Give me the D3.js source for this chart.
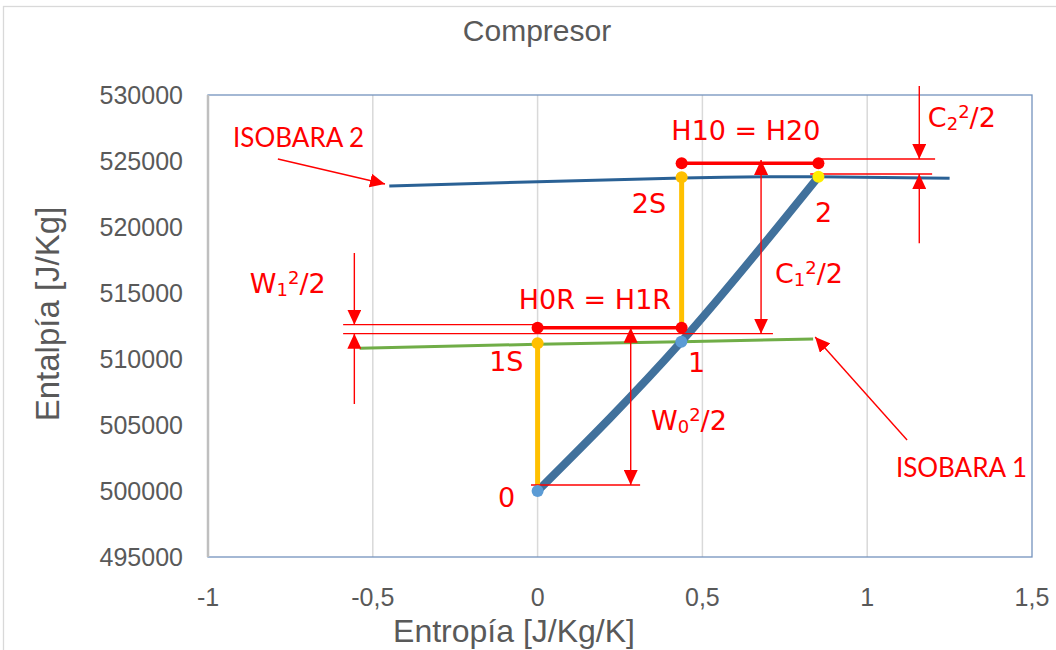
<!DOCTYPE html>
<html>
<head>
<meta charset="utf-8">
<script src="https://cdn.jsdelivr.net/npm/d3@7"></script>
<style>
  body { margin: 0; background: #fff; }
  .axis-text { font-family: "Liberation Sans", Arial, sans-serif; fill: #595959; }
  .note { font-family: "DejaVu Sans", sans-serif; font-size: 27px; fill: #ff0000; }
  .iso-note { font-family: Lato, "Liberation Sans", sans-serif; font-size: 26px; fill: #ff0000; }
</style>
</head>
<body>
<div id="chart"></div>
<script>
// axis ticks
const xTicks = [-1, -0.5, 0, 0.5, 1, 1.5];
const yTicks = [495000, 500000, 505000, 510000, 515000, 520000, 525000, 530000];

// real compression 0 -> 1 -> 2 (entropy, enthalpy)
const procS = [0, 0.436, 0.852];
const procH = [500000, 511310, 523810];

// isobars
const iso2S = [-0.45, 0, 0.44, 0.85, 1.25];
const iso2H = [523110, 523430, 523720, 523810, 523690];
const iso1S = [-0.54, 0, 0.436, 0.836];
const iso1H = [510810, 511120, 511310, 511515];

// isentropic steps (s, h start, h end)
const isenSteps = [[0, 500000, 511190], [0.437, 512370, 523770]];

// stagnation enthalpy levels (s start, s end, h)
const stagLevels = [[0, 0.437, 512370], [0.437, 0.852, 524830]];

// thin guide lines [s1, h1, s2, h2]
const guideLines = [
    [-0.59, 512600, 0, 512600],
    [-0.59, 511920, 0.714, 511920],
    [-0.02, 500455, 0.311, 500455],
    [0.851, 525150, 1.206, 525150],
    [0.827, 524015, 1.197, 524015]
];

// single arrows [tail s, tail h, tip s, tip h]
const arrows = [
    [-0.556, 518030, -0.556, 512600],
    [-0.556, 506590, -0.556, 511920],
    [1.158, 530680, 1.158, 525150],
    [1.158, 518765, 1.158, 524015],
    [-0.788, 525150, -0.463, 523260],
    [1.121, 503860, 0.842, 511670]
];

// double arrows [s, h top, h bottom]
const doubleArrows = [
    [0.2825, 512370, 500455],
    [0.678, 525080, 511920]
];

// point labels [text, s, h] (left edge, baseline)
const pointLabels = [
    ["0", -0.120, 498790],
    ["1S", -0.147, 509090],
    ["1", 0.456, 509015],
    ["2S", 0.286, 521060],
    ["2", 0.842, 520380]
];

// energy labels [base, sub, sup, rest, s, h]
const energyLabels = [
    ["W", "1", "2", "/2", -0.873, 515000],
    ["W", "0", "2", "/2", 0.344, 504620],
    ["C", "1", "2", "/2", 0.720, 515760],
    ["C", "2", "2", "/2", 1.184, 527575]
];

// centered labels [text, s, h]
const levelLabels = [
    ["H10 = H20", 0.632, 526590],
    ["H0R = H1R", 0.174, 513790]
];

// isobar labels [text, s, h]
const isoLabels = [
    ["ISOBARA 2", -0.924, 526060],
    ["ISOBARA 1", 1.087, 501060]
];

/** Class representing the compressor h-s chart. */
class CompressorChart {

    constructor() {
        this.w = 1056;
        this.h = 650;

        let svg = d3.select("#chart")
            .append("svg")
            .attr("width", this.w)
            .attr("height", this.h);

        // outer chart border
        svg.append("rect")
            .attr("x", 3.5).attr("y", 6.5)
            .attr("width", 1100).attr("height", 700)
            .attr("fill", "none")
            .attr("stroke", "#d9d9d9")
            .attr("stroke-width", 1.3);

        // scales
        var x = d3.scaleLinear().domain([-1, 1.5]).range([208, 1032]);
        var y = d3.scaleLinear().domain([495000, 530000]).range([557, 95]);

        // arrowhead
        svg.append("defs").append("marker")
            .attr("id", "head")
            .attr("markerUnits", "userSpaceOnUse")
            .attr("markerWidth", 15).attr("markerHeight", 14)
            .attr("refX", 15).attr("refY", 7)
            .attr("orient", "auto-start-reverse")
            .append("path")
            .attr("d", "M0,0 L15,7 L0,14 Z")
            .attr("fill", "#ff0000");

        // gridlines
        svg.append("g").selectAll("line")
            .data(xTicks.slice(1, -1))
            .join("line")
            .attr("x1", d => x(d)).attr("x2", d => x(d))
            .attr("y1", y(530000)).attr("y2", y(495000))
            .attr("stroke", "#d9d9d9")
            .attr("stroke-width", 1.5);

        // plot border
        svg.append("rect")
            .attr("x", x(-1)).attr("y", y(530000))
            .attr("width", x(1.5) - x(-1))
            .attr("height", y(495000) - y(530000))
            .attr("fill", "none")
            .attr("stroke", "#7393bd")
            .attr("stroke-width", 1.3);
        svg.append("line")
            .attr("x1", x(-1)).attr("x2", x(-1))
            .attr("y1", y(530000)).attr("y2", y(495000))
            .attr("stroke", "#bfbfbf")
            .attr("stroke-width", 2.5);

        // tick labels
        svg.append("g").selectAll("text")
            .data(yTicks)
            .join("text")
            .attr("class", "axis-text")
            .attr("font-size", 25)
            .attr("x", 183)
            .attr("y", d => y(d))
            .attr("dy", "0.35em")
            .attr("text-anchor", "end")
            .text(d => d);
        svg.append("g").selectAll("text")
            .data(xTicks)
            .join("text")
            .attr("class", "axis-text")
            .attr("font-size", 25)
            .attr("x", d => x(d))
            .attr("y", 606)
            .attr("text-anchor", "middle")
            .text(d => String(d).replace(".", ","));

        // titles
        svg.append("text")
            .attr("class", "axis-text")
            .attr("font-size", 30)
            .attr("x", 537).attr("y", 41)
            .attr("text-anchor", "middle")
            .text("Compresor");
        svg.append("text")
            .attr("class", "axis-text")
            .attr("font-size", 33)
            .attr("transform", "translate(59,314) rotate(-90)")
            .attr("text-anchor", "middle")
            .text("Entalpía [J/Kg]");
        svg.append("text")
            .attr("class", "axis-text")
            .attr("font-size", 32)
            .attr("x", 514).attr("y", 642)
            .attr("text-anchor", "middle")
            .text("Entropía [J/Kg/K]");

        // line generators
        var line = d3.line()
            .curve(d3.curveMonotoneX)
            .x(d => x(d[0]))
            .y(d => y(d[1]));
        var smooth = d3.line()
            .curve(d3.curveNatural)
            .x(d => x(d[0]))
            .y(d => y(d[1]));

        // isobars
        svg.append("path")
            .datum(d3.zip(iso1S, iso1H))
            .attr("d", smooth)
            .attr("fill", "none")
            .attr("stroke", "#70ad47")
            .attr("stroke-width", 3);
        svg.append("path")
            .datum(d3.zip(iso2S, iso2H))
            .attr("d", smooth)
            .attr("fill", "none")
            .attr("stroke", "#2a6195")
            .attr("stroke-width", 3);

        // real process
        svg.append("path")
            .datum(d3.zip(procS, procH))
            .attr("d", line)
            .attr("fill", "none")
            .attr("stroke", "#41719c")
            .attr("stroke-width", 8);

        // isentropic steps
        svg.append("g").selectAll("line")
            .data(isenSteps)
            .join("line")
            .attr("x1", d => x(d[0])).attr("x2", d => x(d[0]))
            .attr("y1", d => y(d[1])).attr("y2", d => y(d[2]))
            .attr("stroke", "#ffc000")
            .attr("stroke-width", 5);

        // guide lines
        svg.append("g").selectAll("line")
            .data(guideLines)
            .join("line")
            .attr("x1", d => x(d[0])).attr("y1", d => y(d[1]))
            .attr("x2", d => x(d[2])).attr("y2", d => y(d[3]))
            .attr("stroke", "#ff0000")
            .attr("stroke-width", 1.3);

        // stagnation levels
        svg.append("g").selectAll("line")
            .data(stagLevels)
            .join("line")
            .attr("x1", d => x(d[0])).attr("x2", d => x(d[1]))
            .attr("y1", d => y(d[2])).attr("y2", d => y(d[2]))
            .attr("stroke", "#ff0000")
            .attr("stroke-width", 3.5);
        svg.append("g").selectAll("circle")
            .data(stagLevels.flatMap(d => [[d[0], d[2]], [d[1], d[2]]]))
            .join("circle")
            .attr("cx", d => x(d[0])).attr("cy", d => y(d[1]))
            .attr("r", 6)
            .attr("fill", "#ff0000");

        // markers
        svg.append("g").selectAll("circle")
            .data(isenSteps.map(d => [d[0], d[2]]))
            .join("circle")
            .attr("cx", d => x(d[0])).attr("cy", d => y(d[1]))
            .attr("r", 6)
            .attr("fill", "#ffc000");
        svg.append("g").selectAll("circle")
            .data(d3.zip(procS, procH))
            .join("circle")
            .attr("cx", d => x(d[0])).attr("cy", d => y(d[1]))
            .attr("r", 6)
            .attr("fill", (d, i) => i == 2 ? "#ffee00" : "#5b9bd5");

        // arrows
        svg.append("g").selectAll("line")
            .data(arrows)
            .join("line")
            .attr("x1", d => x(d[0])).attr("y1", d => y(d[1]))
            .attr("x2", d => x(d[2])).attr("y2", d => y(d[3]))
            .attr("stroke", "#ff0000")
            .attr("stroke-width", 1.4)
            .attr("marker-end", "url(#head)");
        svg.append("g").selectAll("line")
            .data(doubleArrows)
            .join("line")
            .attr("x1", d => x(d[0])).attr("y1", d => y(d[1]))
            .attr("x2", d => x(d[0])).attr("y2", d => y(d[2]))
            .attr("stroke", "#ff0000")
            .attr("stroke-width", 1.4)
            .attr("marker-start", "url(#head)")
            .attr("marker-end", "url(#head)");

        // labels
        svg.append("g").selectAll("text")
            .data(pointLabels)
            .join("text")
            .attr("class", "note")
            .attr("x", d => x(d[1])).attr("y", d => y(d[2]))
            .text(d => d[0]);
        svg.append("g").selectAll("text")
            .data(levelLabels)
            .join("text")
            .attr("class", "note")
            .attr("text-anchor", "middle")
            .attr("x", d => x(d[1])).attr("y", d => y(d[2]))
            .text(d => d[0]);
        svg.append("g").selectAll("text")
            .data(isoLabels)
            .join("text")
            .attr("class", "iso-note")
            .attr("x", d => x(d[1])).attr("y", d => y(d[2]))
            .text(d => d[0]);

        let energy = svg.append("g").selectAll("text")
            .data(energyLabels)
            .join("text")
            .attr("class", "note")
            .attr("x", d => x(d[4])).attr("y", d => y(d[5]));
        energy.append("tspan").text(d => d[0]);
        energy.append("tspan").attr("font-size", 18).attr("dy", 3).text(d => d[1]);
        energy.append("tspan").attr("font-size", 18).attr("dy", -12).text(d => d[2]);
        energy.append("tspan").attr("dy", 9).text(d => d[3]);
    }
}

new CompressorChart();
</script>
</body>
</html>
